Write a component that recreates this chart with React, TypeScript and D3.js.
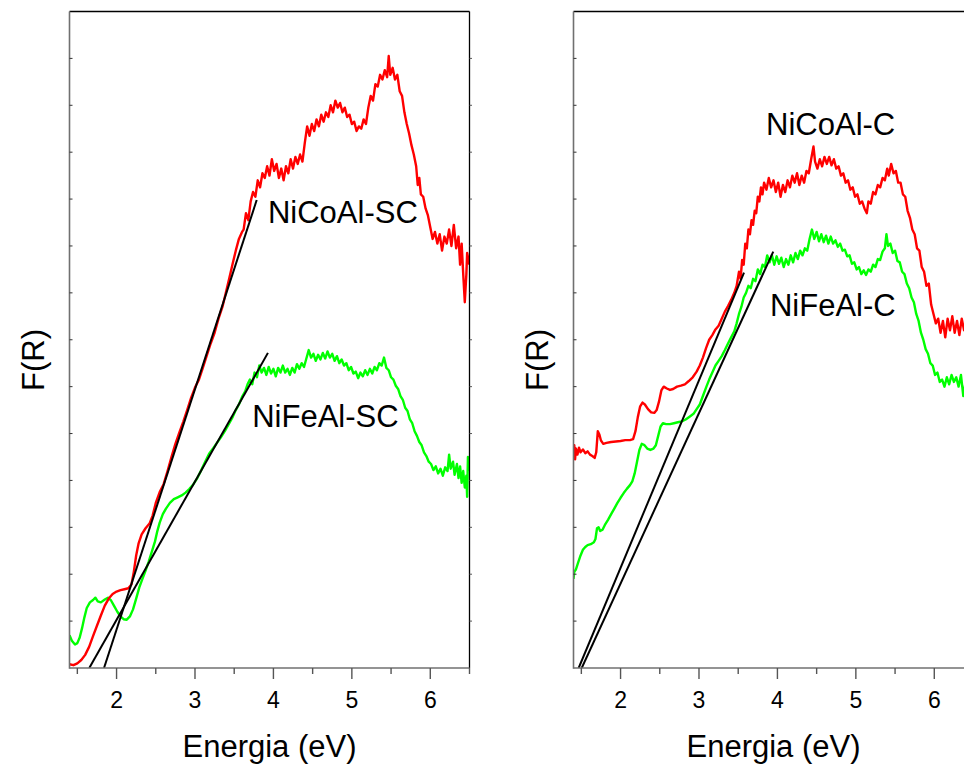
import React from "react";
import * as d3 from "d3";

type Pt = [number, number];

// ---- Data (Energia eV, F(R) arbitrary units) ----
const nicoalSC: Pt[] = [
  [1.40,0.08],[1.45,0.06],[1.50,0.10],[1.55,0.17],[1.60,0.28],[1.65,0.45],[1.70,0.68],[1.75,0.90],[1.80,1.12],[1.85,1.33],
  [1.90,1.48],[1.95,1.58],[2.00,1.63],[2.05,1.66],[2.10,1.68],[2.15,1.70],[2.19,1.78],[2.22,2.05],[2.25,2.40],[2.28,2.65],
  [2.32,2.85],[2.37,2.98],[2.42,3.08],[2.46,3.25],[2.50,3.52],[2.55,3.75],[2.60,3.92],[2.65,4.20],[2.70,4.50],[2.75,4.78],
  [2.80,5.02],[2.85,5.25],[2.90,5.50],[2.95,5.76],[3.00,5.98],[3.05,6.15],[3.10,6.40],[3.15,6.66],[3.20,6.92],[3.25,7.15],
  [3.30,7.45],[3.35,7.70],[3.40,8.05],[3.44,8.33],[3.48,8.62],[3.52,8.90],[3.56,9.15],[3.60,9.30],[3.62,9.35],[3.65,9.70],
  [3.68,9.55],[3.71,9.95],[3.74,10.15],[3.77,10.05],[3.80,10.40],[3.83,10.25],[3.86,10.55],[3.89,10.45],[3.92,10.70],[3.95,10.50],
  [3.98,10.85],[4.01,10.60],[4.04,10.75],[4.07,10.45],[4.10,10.65],[4.13,10.40],[4.16,10.70],[4.19,10.55],[4.22,10.85],[4.25,10.65],
  [4.28,10.90],[4.31,10.75],[4.34,10.95],[4.37,10.80],[4.40,11.20],[4.43,11.55],[4.46,11.35],[4.49,11.60],[4.52,11.45],[4.55,11.70],
  [4.58,11.55],[4.61,11.80],[4.64,11.65],[4.67,11.85],[4.70,11.75],[4.73,12.00],[4.76,11.85],[4.79,12.10],[4.82,11.95],[4.85,12.05],
  [4.88,11.85],[4.91,11.95],[4.94,11.75],[4.97,11.80],[5.00,11.60],[5.03,11.65],[5.06,11.45],[5.09,11.55],[5.12,11.50],[5.15,11.70],
  [5.18,11.60],[5.21,11.95],[5.24,12.20],[5.27,12.10],[5.30,12.45],[5.33,12.40],[5.36,12.65],[5.39,12.55],[5.42,12.75],[5.45,12.60],
  [5.47,13.05],[5.49,12.65],[5.52,12.80],[5.55,12.55],[5.58,12.65],[5.61,12.30],[5.64,12.20],[5.67,11.85],[5.70,11.60],[5.73,11.40],
  [5.76,11.15],[5.79,10.95],[5.82,10.70],[5.84,10.30],[5.86,10.45],[5.88,10.10],[5.91,10.05],[5.94,9.80],[5.97,9.65],[6.00,9.40],
  [6.03,9.15],[6.06,9.30],[6.09,9.05],[6.12,9.25],[6.15,8.90],[6.18,9.20],[6.21,9.05],[6.24,9.35],[6.27,9.00],[6.30,9.45],
  [6.33,8.95],[6.36,9.20],[6.38,8.60],[6.40,9.05],[6.42,8.40],[6.44,7.80],[6.46,8.40],[6.47,8.85],[6.50,8.60],
];

const nifealSC: Pt[] = [
  [1.40,0.70],[1.43,0.58],[1.47,0.50],[1.50,0.53],[1.53,0.65],[1.56,0.85],[1.59,1.08],[1.62,1.28],[1.66,1.40],[1.70,1.45],
  [1.73,1.50],[1.76,1.42],[1.80,1.40],[1.85,1.46],[1.89,1.50],[1.93,1.44],[1.97,1.32],[2.01,1.20],[2.05,1.10],[2.09,1.04],
  [2.13,1.03],[2.17,1.10],[2.21,1.25],[2.25,1.48],[2.29,1.72],[2.33,1.90],[2.37,2.08],[2.41,2.27],[2.45,2.48],[2.49,2.70],
  [2.52,2.92],[2.55,3.10],[2.59,3.28],[2.63,3.40],[2.68,3.52],[2.73,3.60],[2.78,3.64],[2.83,3.68],[2.88,3.74],[2.93,3.82],
  [2.98,3.92],[3.03,4.05],[3.08,4.22],[3.13,4.40],[3.18,4.57],[3.23,4.68],[3.28,4.80],[3.33,4.92],[3.38,5.05],[3.43,5.20],
  [3.48,5.35],[3.52,5.50],[3.56,5.62],[3.60,5.78],[3.64,5.90],[3.67,6.05],[3.70,6.15],[3.73,6.05],[3.76,6.30],[3.79,6.20],
  [3.82,6.45],[3.85,6.30],[3.88,6.40],[3.91,6.25],[3.94,6.42],[3.97,6.28],[4.00,6.38],[4.03,6.22],[4.06,6.40],[4.09,6.30],
  [4.12,6.45],[4.15,6.30],[4.18,6.38],[4.21,6.25],[4.24,6.40],[4.27,6.30],[4.30,6.48],[4.33,6.38],[4.36,6.50],[4.39,6.42],
  [4.42,6.60],[4.45,6.78],[4.48,6.62],[4.51,6.70],[4.54,6.55],[4.57,6.68],[4.60,6.58],[4.63,6.72],[4.66,6.60],[4.69,6.75],
  [4.72,6.62],[4.75,6.70],[4.78,6.55],[4.81,6.65],[4.84,6.50],[4.87,6.58],[4.90,6.45],[4.93,6.50],[4.96,6.35],[4.99,6.42],
  [5.02,6.28],[5.05,6.32],[5.08,6.18],[5.11,6.30],[5.14,6.22],[5.17,6.35],[5.20,6.25],[5.23,6.38],[5.26,6.28],[5.29,6.42],
  [5.32,6.35],[5.35,6.50],[5.38,6.45],[5.41,6.62],[5.44,6.40],[5.47,6.35],[5.50,6.20],[5.53,6.15],[5.56,6.02],[5.59,5.95],
  [5.62,5.80],[5.65,5.72],[5.68,5.55],[5.71,5.48],[5.74,5.30],[5.77,5.22],[5.80,5.05],[5.83,4.95],[5.86,4.82],[5.89,4.75],
  [5.92,4.60],[5.95,4.52],[5.98,4.40],[6.01,4.35],[6.04,4.22],[6.07,4.30],[6.10,4.15],[6.13,4.25],[6.16,4.10],[6.19,4.28],
  [6.22,4.20],[6.24,4.55],[6.26,4.25],[6.29,4.40],[6.31,4.12],[6.34,4.35],[6.36,4.05],[6.38,4.30],[6.40,3.95],[6.42,4.20],
  [6.44,3.85],[6.46,4.10],[6.47,3.65],[6.48,4.50],[6.50,4.20],
];

const nicoalC: Pt[] = [
  [1.40,4.50],[1.41,4.75],[1.42,4.45],[1.43,4.68],[1.45,4.55],[1.47,4.70],[1.49,4.60],[1.52,4.66],[1.55,4.58],[1.58,4.62],
  [1.61,4.55],[1.64,4.52],[1.67,4.48],[1.69,4.60],[1.71,5.05],[1.73,4.98],[1.75,4.85],[1.78,4.78],[1.82,4.80],[1.88,4.82],
  [1.94,4.83],[2.00,4.84],[2.06,4.86],[2.12,4.86],[2.16,4.88],[2.19,5.05],[2.22,5.35],[2.25,5.58],[2.28,5.66],[2.31,5.62],
  [2.35,5.52],[2.39,5.45],[2.43,5.44],[2.46,5.50],[2.49,5.68],[2.52,5.92],[2.55,6.00],[2.59,5.96],[2.63,5.93],[2.67,5.95],
  [2.72,6.00],[2.77,6.02],[2.82,6.05],[2.87,6.12],[2.92,6.20],[2.97,6.32],[3.01,6.45],[3.05,6.62],[3.09,6.82],[3.13,7.00],
  [3.17,7.10],[3.21,7.22],[3.25,7.30],[3.29,7.45],[3.33,7.60],[3.37,7.72],[3.41,7.85],[3.45,8.00],[3.48,8.15],[3.51,8.45],
  [3.53,8.30],[3.55,8.70],[3.57,8.60],[3.59,9.05],[3.61,8.95],[3.63,9.35],[3.65,9.25],[3.67,9.55],[3.69,9.45],[3.71,9.75],
  [3.73,9.70],[3.75,10.05],[3.77,9.95],[3.79,10.25],[3.81,10.10],[3.83,10.35],[3.86,10.20],[3.89,10.45],[3.92,10.25],[3.95,10.40],
  [3.98,10.15],[4.01,10.35],[4.04,10.05],[4.07,10.30],[4.10,10.15],[4.13,10.40],[4.16,10.25],[4.19,10.50],[4.22,10.35],[4.25,10.55],
  [4.28,10.30],[4.31,10.50],[4.34,10.35],[4.37,10.60],[4.40,10.55],[4.43,10.85],[4.46,11.12],[4.48,10.80],[4.51,10.65],[4.54,10.85],
  [4.57,10.70],[4.60,10.90],[4.63,10.75],[4.66,10.90],[4.69,10.72],[4.72,10.85],[4.75,10.65],[4.78,10.70],[4.81,10.50],[4.84,10.55],
  [4.87,10.35],[4.90,10.40],[4.93,10.20],[4.96,10.25],[4.99,10.05],[5.02,10.10],[5.05,9.90],[5.08,9.95],[5.11,9.80],[5.14,9.70],
  [5.16,9.95],[5.19,9.90],[5.22,10.15],[5.25,10.10],[5.28,10.30],[5.31,10.25],[5.34,10.45],[5.37,10.40],[5.40,10.65],[5.42,10.50],
  [5.45,10.75],[5.48,10.55],[5.51,10.60],[5.54,10.35],[5.57,10.35],[5.60,10.10],[5.63,10.05],[5.66,9.75],[5.69,9.60],[5.72,9.35],
  [5.75,9.25],[5.78,8.95],[5.81,8.90],[5.84,8.55],[5.87,8.45],[5.90,8.15],[5.93,8.20],[5.96,7.75],[5.99,7.55],[6.02,7.35],
  [6.05,7.45],[6.08,7.15],[6.11,7.40],[6.14,7.05],[6.17,7.45],[6.20,7.20],[6.23,7.50],[6.26,7.15],[6.29,7.40],[6.32,7.10],
  [6.35,7.45],[6.38,7.20],[6.41,7.35],[6.44,7.10],[6.47,7.40],[6.50,7.25],
];

const nifealC: Pt[] = [
  [1.40,1.90],[1.41,2.05],[1.43,2.10],[1.46,2.25],[1.49,2.40],[1.52,2.52],[1.55,2.58],[1.58,2.62],[1.62,2.64],[1.66,2.68],
  [1.68,2.75],[1.70,2.98],[1.72,3.00],[1.74,2.92],[1.77,2.95],[1.80,3.05],[1.84,3.16],[1.88,3.28],[1.92,3.40],[1.96,3.52],
  [2.00,3.63],[2.04,3.73],[2.08,3.82],[2.12,3.90],[2.15,3.98],[2.18,4.15],[2.21,4.40],[2.24,4.65],[2.27,4.78],[2.30,4.76],
  [2.34,4.68],[2.38,4.65],[2.42,4.68],[2.45,4.75],[2.48,4.95],[2.51,5.15],[2.54,5.22],[2.58,5.20],[2.63,5.20],[2.68,5.22],
  [2.73,5.24],[2.78,5.26],[2.83,5.30],[2.88,5.36],[2.93,5.42],[2.97,5.52],[3.01,5.62],[3.05,5.80],[3.09,5.98],[3.13,6.15],
  [3.17,6.30],[3.21,6.45],[3.25,6.55],[3.29,6.65],[3.33,6.78],[3.37,6.92],[3.41,7.05],[3.45,7.18],[3.48,7.35],[3.51,7.55],
  [3.54,7.70],[3.57,7.90],[3.60,8.00],[3.63,8.15],[3.66,8.10],[3.69,8.30],[3.72,8.25],[3.75,8.50],[3.78,8.40],[3.81,8.60],
  [3.84,8.55],[3.87,8.80],[3.90,8.65],[3.93,8.80],[3.96,8.60],[3.99,8.78],[4.02,8.62],[4.05,8.75],[4.08,8.55],[4.11,8.72],
  [4.14,8.60],[4.17,8.80],[4.20,8.65],[4.23,8.85],[4.26,8.72],[4.29,8.90],[4.32,8.80],[4.35,8.95],[4.38,8.90],[4.41,9.15],
  [4.44,9.35],[4.47,9.15],[4.50,9.30],[4.53,9.10],[4.56,9.25],[4.59,9.08],[4.62,9.22],[4.65,9.05],[4.68,9.20],[4.71,9.05],
  [4.74,9.12],[4.77,8.98],[4.80,9.05],[4.83,8.90],[4.86,8.92],[4.89,8.78],[4.92,8.80],[4.95,8.62],[4.98,8.65],[5.01,8.50],
  [5.04,8.55],[5.07,8.40],[5.10,8.48],[5.13,8.38],[5.16,8.50],[5.19,8.45],[5.22,8.60],[5.25,8.55],[5.28,8.72],[5.31,8.70],
  [5.34,8.88],[5.37,8.95],[5.39,9.25],[5.41,9.00],[5.44,9.05],[5.47,8.85],[5.50,8.90],[5.53,8.68],[5.56,8.65],[5.59,8.45],
  [5.62,8.40],[5.65,8.20],[5.68,8.10],[5.71,7.90],[5.74,7.80],[5.77,7.55],[5.80,7.40],[5.83,7.15],[5.86,7.00],[5.89,6.80],
  [5.92,6.70],[5.95,6.50],[5.98,6.45],[6.01,6.25],[6.04,6.30],[6.07,6.10],[6.10,6.15],[6.13,6.00],[6.16,6.20],[6.19,6.05],
  [6.22,6.25],[6.25,6.10],[6.28,6.20],[6.31,6.00],[6.34,6.25],[6.37,5.80],[6.40,6.10],[6.43,5.70],[6.46,6.00],[6.50,5.90],
];

// Tangent (Tauc-style) fit lines: [start, end]
const tangentsSC: Pt[][] = [
  [[1.84, 0], [3.787, 9.98]],
  [[1.652, 0], [3.93, 6.72]],
];
const tangentsC: Pt[][] = [
  [[1.466, 0], [3.574, 8.43]],
  [[1.505, 0], [3.947, 8.88]],
];

const xMajorTicks = [2, 3, 4, 5, 6];
const xMinorTicks = [1.5, 2.5, 3.5, 4.5, 5.5, 6.5];
const yTicks = [1, 2, 3, 4, 5, 6, 7, 8, 9, 10, 11, 12, 13];
const xDomain: [number, number] = [1.4, 6.5];
const yDomain: [number, number] = [0, 14];

const labelsSC = [
  { text: "NiCoAl-SC", E: 3.93, y: 9.5 },
  { text: "NiFeAl-SC", E: 3.73, y: 5.15 },
];
const labelsC = [
  { text: "NiCoAl-C", E: 3.855, y: 11.37 },
  { text: "NiFeAl-C", E: 3.905, y: 7.5 },
];

const FONT = "'Liberation Sans', Arial, Helvetica, sans-serif";

type PanelProps = {
  id: string;
  left: number;
  red: Pt[];
  green: Pt[];
  tangents: Pt[][];
  labels: { text: string; E: number; y: number }[];
};

const TOP = 11.5;
const BOTTOM = 668;
const PW = 400;

function Panel({ id, left, red, green, tangents, labels }: PanelProps) {
  const x = d3.scaleLinear().domain(xDomain).range([left, left + PW]);
  const y = d3.scaleLinear().domain(yDomain).range([BOTTOM, TOP]);
  const line = d3
    .line<Pt>()
    .x((d) => x(d[0]))
    .y((d) => y(d[1]));
  const cx = left + PW / 2;
  return (
    <g>
      <defs>
        <clipPath id={id}>
          <rect x={left} y={TOP} width={PW} height={BOTTOM - TOP} />
        </clipPath>
      </defs>
      <g clipPath={`url(#${id})`}>
        <path d={line(green) ?? ""} fill="none" stroke="#00ff00" strokeWidth={2.4} strokeLinejoin="round" />
        <path d={line(red) ?? ""} fill="none" stroke="#ff0000" strokeWidth={2.4} strokeLinejoin="round" />
        {tangents.map((t, i) => (
          <path key={i} d={line(t) ?? ""} fill="none" stroke="#000" strokeWidth={2} />
        ))}
      </g>
      {/* frame */}
      <line x1={left} x2={left + PW} y1={TOP} y2={TOP} stroke="#000" strokeWidth={1.3} />
      <line x1={left + PW} x2={left + PW} y1={TOP} y2={BOTTOM} stroke="#000" strokeWidth={1.3} />
      <line x1={left} x2={left} y1={TOP} y2={BOTTOM + 0.7} stroke="#707070" strokeWidth={1.6} />
      <line x1={left} x2={left + PW} y1={BOTTOM} y2={BOTTOM} stroke="#707070" strokeWidth={1.6} />
      {/* y ticks */}
      {yTicks.map((t) => (
        <g key={t}>
          <line x1={left} x2={left + 3} y1={y(t)} y2={y(t)} stroke="#333" strokeWidth={1} />
          <line x1={left + PW} x2={left + PW + 2.5} y1={y(t)} y2={y(t)} stroke="#555" strokeWidth={1} />
        </g>
      ))}
      {/* x ticks */}
      {xMajorTicks.map((t) => (
        <g key={t}>
          <line x1={x(t)} x2={x(t)} y1={BOTTOM} y2={BOTTOM + 11} stroke="#555" strokeWidth={1.4} />
          <text x={x(t)} y={708} textAnchor="middle" fontSize={23} fontFamily={FONT} fill="#000">
            {t}
          </text>
        </g>
      ))}
      {xMinorTicks.map((t) => (
        <line key={t} x1={x(t)} x2={x(t)} y1={BOTTOM} y2={BOTTOM + 6} stroke="#555" strokeWidth={1.4} />
      ))}
      {/* labels */}
      {labels.map((l) => (
        <text key={l.text} x={x(l.E)} y={y(l.y)} fontSize={31} fontFamily={FONT} fill="#000">
          {l.text}
        </text>
      ))}
      <text x={cx} y={757} textAnchor="middle" fontSize={31} fontFamily={FONT} fill="#000">
        Energia (eV)
      </text>
      <text
        transform={`translate(${left - 26},360) rotate(-90)`}
        textAnchor="middle"
        fontSize={31}
        fontFamily={FONT}
        fill="#000"
      >
        F(R)
      </text>
    </g>
  );
}

export default function App() {
  return (
    <svg
      width={964}
      height={765}
      style={{ position: "absolute", left: 0, top: 0, background: "#fff" }}
    >
      <rect width={964} height={765} fill="#fff" />
      <Panel id="clipSC" left={69.5} red={nicoalSC} green={nifealSC} tangents={tangentsSC} labels={labelsSC} />
      <Panel id="clipC" left={573.5} red={nicoalC} green={nifealC} tangents={tangentsC} labels={labelsC} />
    </svg>
  );
}
